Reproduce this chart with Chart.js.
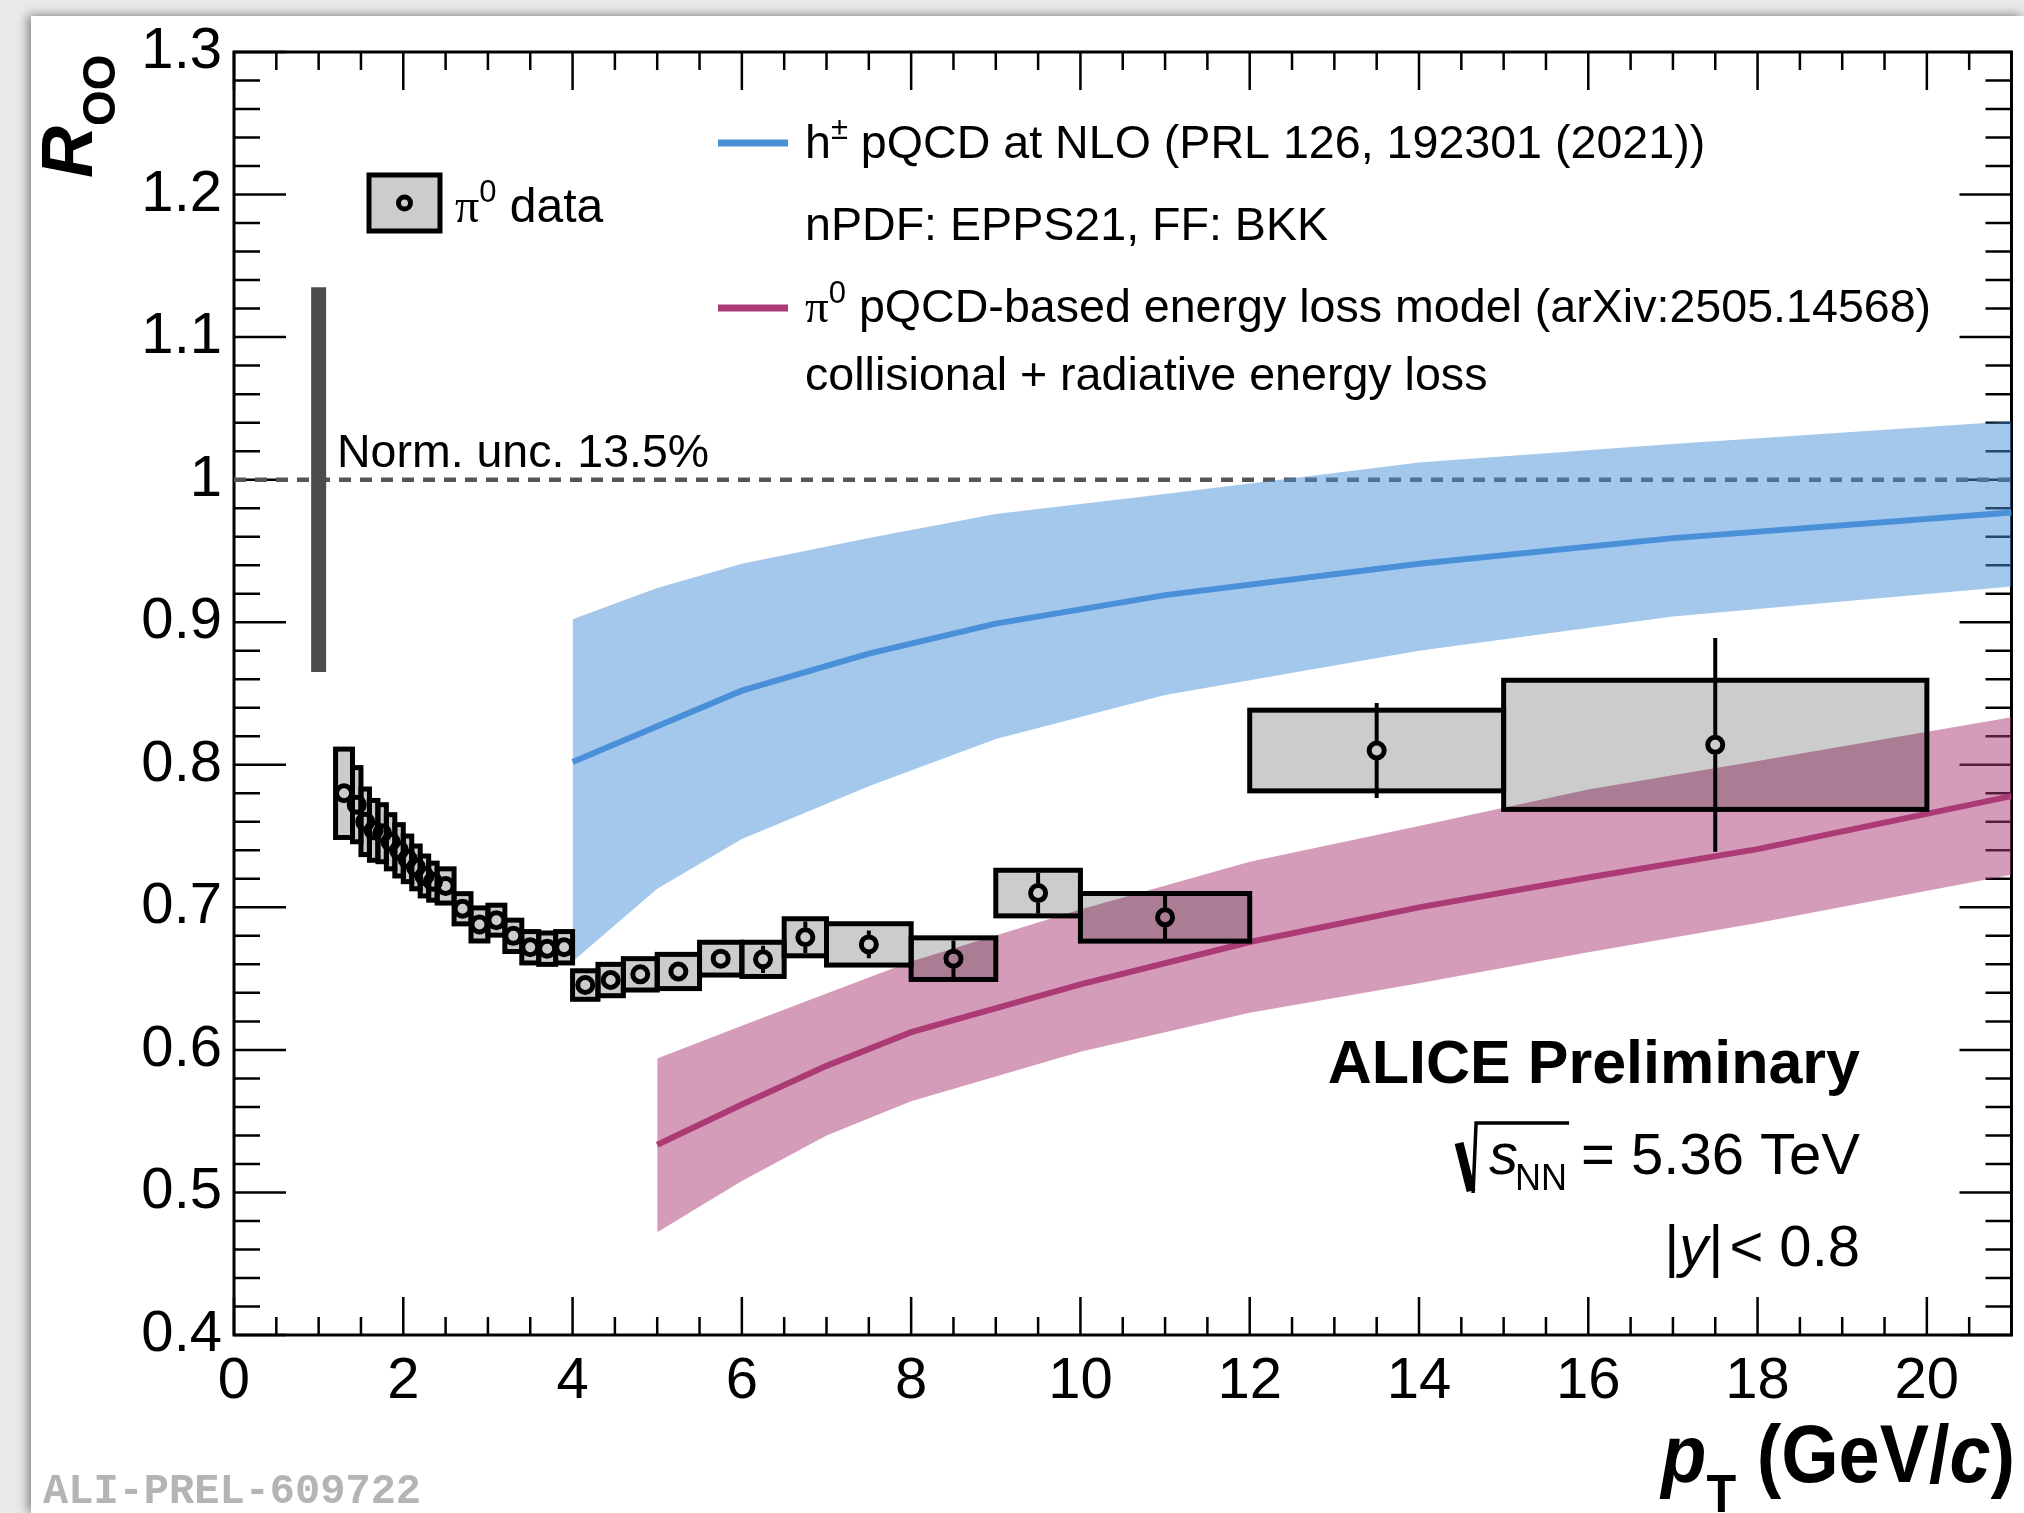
<!DOCTYPE html>
<html>
<head>
<meta charset="utf-8">
<script src="https://cdn.jsdelivr.net/npm/chart.js@4.4.1/dist/chart.umd.min.js"></script>
<style>
html, body { margin: 0; padding: 0; background: #e9e9e9; overflow: hidden; }
#paper { position: absolute; left: 31px; top: 16px; width: 1993px; height: 1497px; background: #fff; box-shadow: -3px -1px 10px rgba(0,0,0,0.45); }
#chart { position: absolute; left: 0; top: 0; }
</style>
</head>
<body>
<div id="paper"></div>
<canvas id="chart" width="2024" height="1513"></canvas>
<script>
// pi0 R_OO data, bins in pT (GeV/c)
const binLow  = [1.2, 1.4, 1.5, 1.6, 1.7, 1.8, 1.9, 2.0, 2.1, 2.2, 2.3, 2.4, 2.6, 2.8, 3.0, 3.2, 3.4, 3.6, 3.8, 4.0, 4.3, 4.6, 5.0, 5.5, 6.0, 6.5, 7.0, 8.0, 9.0, 10, 12, 15];
const binHigh = [1.4, 1.5, 1.6, 1.7, 1.8, 1.9, 2.0, 2.1, 2.2, 2.3, 2.4, 2.6, 2.8, 3.0, 3.2, 3.4, 3.6, 3.8, 4.0, 4.3, 4.6, 5.0, 5.5, 6.0, 6.5, 7.0, 8.0, 9.0, 10, 12, 15, 20];
const raaValues = [0.780, 0.772, 0.760, 0.754, 0.752, 0.746, 0.740, 0.734, 0.728, 0.722, 0.718,
                   0.715, 0.699, 0.688, 0.691, 0.680, 0.672, 0.671, 0.672,
                   0.6455, 0.649, 0.653, 0.655, 0.664, 0.6635, 0.679, 0.674, 0.664, 0.710, 0.693, 0.810, 0.814];
const statErr = [0.003, 0.003, 0.003, 0.003, 0.003, 0.003, 0.003, 0.003, 0.003, 0.003, 0.003,
                 0.003, 0.003, 0.003, 0.003, 0.003, 0.003, 0.003, 0.003,
                 0.004, 0.004, 0.004, 0.005, 0.006, 0.0095, 0.011, 0.0097, 0.0128, 0.0143, 0.0157, 0.0333, 0.075];
const sysErr = [0.031, 0.026, 0.023, 0.021, 0.020, 0.019, 0.018, 0.016, 0.015, 0.014, 0.013,
                0.012, 0.0106, 0.0116, 0.0105, 0.011, 0.011, 0.011, 0.011,
                0.010, 0.011, 0.011, 0.012, 0.0115, 0.012, 0.013, 0.0145, 0.0146, 0.016, 0.0167, 0.0283, 0.0453];

// h+- pQCD at NLO
const nloPt      = [4, 5, 6, 7.5, 9, 11, 14, 17, 21];
const nloCentral = [0.802, 0.827, 0.852, 0.878, 0.899, 0.919, 0.941, 0.959, 0.977];
const nloUpper   = [0.902, 0.924, 0.941, 0.959, 0.976, 0.990, 1.012, 1.025, 1.041];
const nloLower   = [0.662, 0.713, 0.748, 0.785, 0.818, 0.849, 0.880, 0.904, 0.925];

// pi0 energy loss model
const elossPt      = [5, 6, 7, 8, 10, 12, 14, 16, 18, 21];
const elossCentral = [0.5335, 0.5617, 0.5888, 0.6124, 0.6459, 0.6757, 0.700, 0.7209, 0.7408, 0.778];
const elossUpper   = [0.594, 0.617, 0.6395, 0.662, 0.6985, 0.732, 0.757, 0.7826, 0.8026, 0.8334];
const elossLower   = [0.472, 0.508, 0.540, 0.564, 0.5987, 0.626, 0.6467, 0.6685, 0.689, 0.7228];

const normUnc = 0.135;
const normPt = 1.0;
const xMajorTicks = [0, 2, 4, 6, 8, 10, 12, 14, 16, 18, 20];
const yMajorTicks = [0.4, 0.5, 0.6, 0.7, 0.8, 0.9, 1.0, 1.1, 1.2, 1.3];

const SANS = "'Liberation Sans', Arial, Helvetica, sans-serif";
const SERIF = "'Liberation Serif', 'Times New Roman', serif";
const BLUE = '#4a90d9';
const PINK = '#ab3a75';
const MARKER_R = 7.5;

const pts = (xs, ys) => xs.map((x, i) => ({x: x, y: ys[i]}));
const centers = binLow.map((lo, i) => (lo + binHigh[i]) / 2);

function drawRich(ctx, parts, x, y, align, sx) {
    sx = sx || 1;
    let w = 0;
    parts.forEach(p => { ctx.font = p.font; w += ctx.measureText(p.t).width + (p.gap || 0); });
    ctx.save();
    ctx.translate(x, y);
    ctx.scale(sx, 1);
    ctx.textAlign = 'left';
    ctx.textBaseline = 'alphabetic';
    let cx = align === 'right' ? -w : 0;
    parts.forEach(p => {
        ctx.font = p.font;
        ctx.fillText(p.t, cx, p.dy || 0);
        cx += ctx.measureText(p.t).width + (p.gap || 0);
    });
    ctx.restore();
    return w * sx;
}

const rootFrame = {
    id: 'rootFrame',
    beforeDatasetsDraw(chart) {
        const {ctx, chartArea: a, scales: {x, y}} = chart;
        ctx.save();
        ctx.strokeStyle = '#000';
        ctx.lineWidth = 2.5;
        ctx.beginPath();
        for (let k = 0; k <= 42; k++) {
            const px = x.getPixelForValue(k * 0.5);
            const len = k % 4 === 0 ? 38 : 18;
            ctx.moveTo(px, a.bottom); ctx.lineTo(px, a.bottom - len);
            ctx.moveTo(px, a.top); ctx.lineTo(px, a.top + len);
        }
        for (let k = 0; k <= 45; k++) {
            const py = y.getPixelForValue(0.4 + k * 0.02);
            const len = k % 5 === 0 ? 52 : 26;
            ctx.moveTo(a.left, py); ctx.lineTo(a.left + len, py);
            ctx.moveTo(a.right, py); ctx.lineTo(a.right - len, py);
        }
        ctx.stroke();
        ctx.lineWidth = 3;
        ctx.strokeRect(a.left, a.top, a.right - a.left, a.bottom - a.top);
        ctx.restore();
    },
    beforeDatasetDraw(chart, args) {
        if (args.index !== 0) return;
        const {ctx, chartArea: a, scales: {x, y}} = chart;
        ctx.save();
        ctx.beginPath();
        ctx.rect(a.left, a.top, a.right - a.left, a.bottom - a.top);
        ctx.clip();
        for (let i = 0; i < binLow.length; i++) {
            const x0 = x.getPixelForValue(binLow[i]);
            const x1 = x.getPixelForValue(binHigh[i]);
            const y0 = y.getPixelForValue(raaValues[i] + sysErr[i]);
            const y1 = y.getPixelForValue(raaValues[i] - sysErr[i]);
            ctx.fillStyle = 'rgba(0,0,0,0.2)';
            ctx.fillRect(x0, y0, x1 - x0, y1 - y0);
            ctx.strokeStyle = '#000';
            ctx.lineWidth = 5;
            ctx.strokeRect(x0, y0, x1 - x0, y1 - y0);
        }
        ctx.lineWidth = 4;
        ctx.beginPath();
        for (let i = 0; i < binLow.length; i++) {
            const xc = x.getPixelForValue(centers[i]);
            const yc = y.getPixelForValue(raaValues[i]);
            const yt = y.getPixelForValue(raaValues[i] + statErr[i]);
            const yb = y.getPixelForValue(raaValues[i] - statErr[i]);
            const r = MARKER_R + 2;
            if (yc - yt > r) { ctx.moveTo(xc, yt); ctx.lineTo(xc, yc - r); }
            if (yb - yc > r) { ctx.moveTo(xc, yc + r); ctx.lineTo(xc, yb); }
        }
        ctx.stroke();
        ctx.restore();
    },
    afterDraw(chart) {
        const {ctx} = chart;
        ctx.save();

        // legend: pi0 data
        ctx.fillStyle = 'rgba(0,0,0,0.2)';
        ctx.fillRect(369, 175, 71, 56);
        ctx.strokeStyle = '#000';
        ctx.lineWidth = 5;
        ctx.strokeRect(369, 175, 71, 56);
        ctx.lineWidth = 5;
        ctx.beginPath();
        ctx.arc(404.5, 203, 6, 0, Math.PI * 2);
        ctx.stroke();
        ctx.fillStyle = '#000';
        drawRich(ctx, [
            {t: 'π', font: `48px ${SERIF}`},
            {t: '0', font: `31px ${SANS}`, dy: -20},
            {t: ' data', font: `48px ${SANS}`}
        ], 455, 222);

        // legend: models
        ctx.lineWidth = 7;
        ctx.strokeStyle = BLUE;
        ctx.beginPath(); ctx.moveTo(718, 143); ctx.lineTo(788, 143); ctx.stroke();
        ctx.strokeStyle = PINK;
        ctx.beginPath(); ctx.moveTo(718, 308); ctx.lineTo(788, 308); ctx.stroke();
        const F = `46.6px ${SANS}`;
        drawRich(ctx, [
            {t: 'h', font: F},
            {t: '±', font: `31px ${SANS}`, dy: -19},
            {t: ' pQCD at NLO (PRL 126, 192301 (2021))', font: F}
        ], 805, 158);
        drawRich(ctx, [{t: 'nPDF: EPPS21, FF: BKK', font: F}], 805, 240);
        drawRich(ctx, [
            {t: 'π', font: `47px ${SERIF}`},
            {t: '0', font: `31px ${SANS}`, dy: -19},
            {t: ' pQCD-based energy loss model (arXiv:2505.14568)', font: F}
        ], 805, 322);
        drawRich(ctx, [{t: 'collisional + radiative energy loss', font: F}], 805, 390);

        drawRich(ctx, [{t: 'Norm. unc. 13.5%', font: `46.5px ${SANS}`}], 337, 467);

        // system labels
        drawRich(ctx, [{t: 'ALICE Preliminary', font: `bold 61px ${SANS}`}], 1860, 1083, 'right');
        const by = 1174;
        const w1 = drawRich(ctx, [{t: '= 5.36 TeV', font: `58px ${SANS}`}], 1860, by, 'right');
        const nnRight = 1860 - w1 - 14;
        const wNN = drawRich(ctx, [{t: 'NN', font: `36px ${SANS}`}], nnRight, by + 16, 'right');
        const sRight = nnRight - wNN + 3;
        const wS = drawRich(ctx, [{t: 's', font: `italic 58px ${SANS}`}], sRight, by, 'right');
        const sx0 = sRight - wS - 30;
        ctx.strokeStyle = '#000';
        ctx.lineCap = 'butt';
        ctx.lineWidth = 9;
        ctx.beginPath(); ctx.moveTo(sx0, by - 31); ctx.lineTo(sx0 + 12, by + 17); ctx.stroke();
        ctx.lineWidth = 3.5;
        ctx.beginPath(); ctx.moveTo(sx0 + 14, by + 19); ctx.lineTo(sx0 + 17, by - 51); ctx.lineTo(nnRight + 2, by - 51); ctx.stroke();

        drawRich(ctx, [
            {t: '|', font: `58px ${SANS}`},
            {t: 'y', font: `italic 58px ${SANS}`},
            {t: '|', font: `58px ${SANS}`, gap: 6},
            {t: '< 0.8', font: `58px ${SANS}`}
        ], 1860, 1266, 'right');

        // axis titles
        drawRich(ctx, [
            {t: 'p', font: `bold italic 82px ${SANS}`},
            {t: 'T', font: `bold 54px ${SANS}`, dy: 30},
            {t: ' (GeV/', font: `bold 82px ${SANS}`},
            {t: 'c', font: `bold italic 82px ${SANS}`},
            {t: ')', font: `bold 82px ${SANS}`}
        ], 2015, 1482, 'right', 0.9);

        ctx.save();
        ctx.translate(92, 178);
        ctx.rotate(-Math.PI / 2);
        drawRich(ctx, [
            {t: 'R', font: `bold italic 72px ${SANS}`},
            {t: 'OO', font: `bold 46px ${SANS}`, dy: 23}
        ], 0, 0);
        ctx.restore();

        // watermark
        ctx.fillStyle = '#b4b4b4';
        drawRich(ctx, [{t: 'ALI-PREL-609722', font: `bold 42px 'Liberation Mono', 'Courier New', monospace`}], 43, 1503);
        ctx.restore();
    }
};

const lineSet = (data, color, width, order, extra) => Object.assign({
    data: data, showLine: true, pointRadius: 0, borderColor: color, borderWidth: width, fill: false, order: order
}, extra || {});

new Chart(document.getElementById('chart'), {
    type: 'scatter',
    data: {
        datasets: [
            {
                data: pts(centers, raaValues),
                showLine: false,
                pointRadius: MARKER_R,
                pointBorderWidth: 5,
                pointBorderColor: '#000',
                pointBackgroundColor: 'rgba(0,0,0,0)',
                order: 0
            },
            lineSet([{x: normPt, y: 1 - normUnc}, {x: normPt, y: 1 + normUnc}], '#4d4d4d', 15, 2, {borderCapStyle: 'butt'}),
            lineSet(pts(nloPt, nloCentral), BLUE, 6, 4),
            lineSet(pts(elossPt, elossCentral), PINK, 6, 4),
            lineSet(pts(nloPt, nloLower), 'rgba(0,0,0,0)', 1, 12),
            lineSet(pts(nloPt, nloUpper), 'rgba(0,0,0,0)', 1, 11, {fill: 4, backgroundColor: 'rgba(74,144,217,0.5)'}),
            lineSet(pts(elossPt, elossLower), 'rgba(0,0,0,0)', 1, 12),
            lineSet(pts(elossPt, elossUpper), 'rgba(0,0,0,0)', 1, 11, {fill: 6, backgroundColor: 'rgba(171,58,117,0.5)'}),
            lineSet([{x: 0, y: 1}, {x: 21, y: 1}], '#555555', 4.5, 20, {borderDash: [12, 9]})
        ]
    },
    options: {
        responsive: false,
        devicePixelRatio: 1,
        animation: false,
        events: [],
        layout: {padding: {left: 0, right: 9, top: 52, bottom: 0}},
        plugins: {legend: {display: false}, tooltip: {enabled: false}},
        scales: {
            x: {
                type: 'linear', min: 0, max: 21,
                grid: {display: false, drawTicks: false},
                border: {display: false},
                ticks: {color: '#000', font: {family: SANS, size: 58}, padding: 12, maxRotation: 0, autoSkip: false},
                afterBuildTicks: s => { s.ticks = xMajorTicks.map(v => ({value: v})); },
                afterFit: s => { s.height = 178; }
            },
            y: {
                type: 'linear', min: 0.4, max: 1.3,
                grid: {display: false, drawTicks: false},
                border: {display: false},
                ticks: {color: '#000', font: {family: SANS, size: 58}, padding: 12, autoSkip: false,
                        callback: v => String(+v.toFixed(1))},
                afterBuildTicks: s => { s.ticks = yMajorTicks.map(v => ({value: v})); },
                afterFit: s => { s.width = 234; }
            }
        }
    },
    plugins: [rootFrame]
});
</script>
</body>
</html>
